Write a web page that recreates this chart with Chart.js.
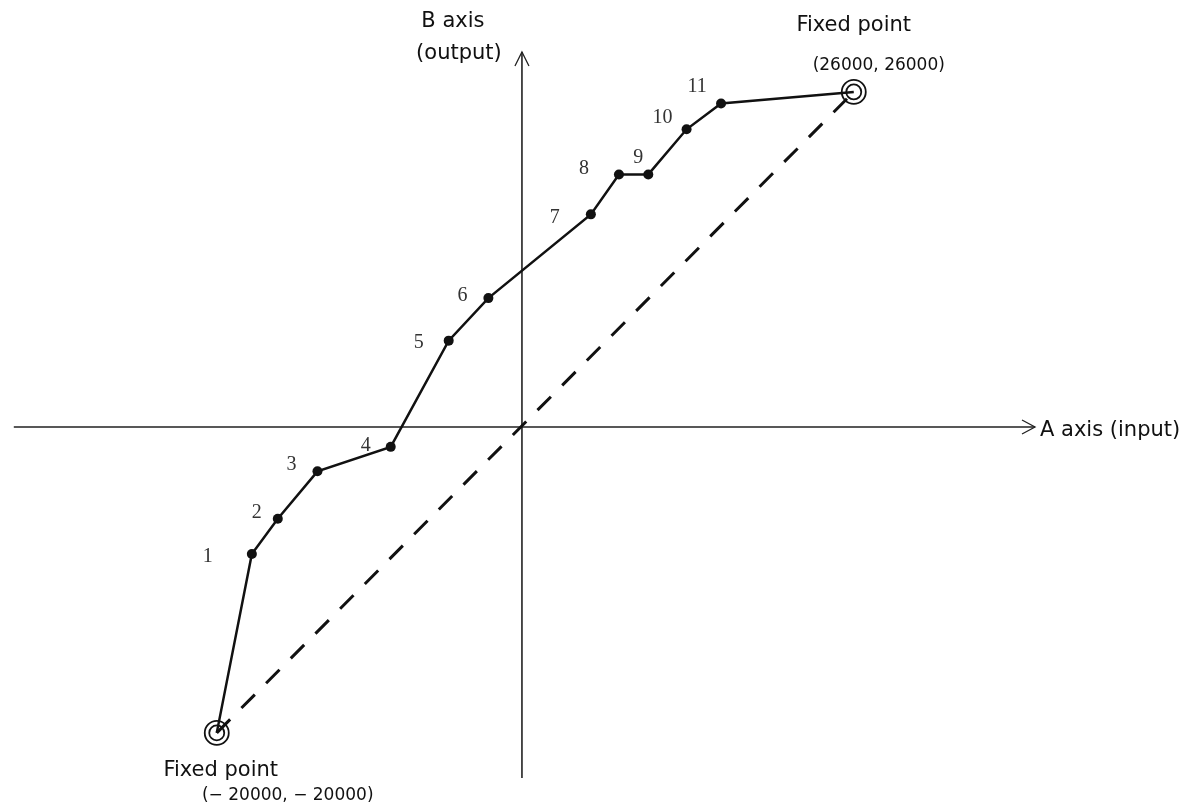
<!DOCTYPE html>
<html>
<head>
<meta charset="utf-8">
<script src="https://cdn.jsdelivr.net/npm/chart.js@4.4.1/dist/chart.umd.min.js"></script>
<style>
  html, body { margin: 0; background: #fff; }
  #wrap { width: 1192px; height: 811px; }
</style>
</head>
<body>
<div id="wrap"><canvas id="chart"></canvas></div>
<script>
// values in A / B units
const fixedA = [-20000, 26000];
const fixedB = [-20000, 26000];
const fixedText = ["(\u2212 20000, \u2212 20000)", "(26000, 26000)"];

const pointNames = ["1", "2", "3", "4", "5", "6", "7", "8", "9", "10", "11"];
const pointA = [-17700, -16000, -13400, -8600, -4800, -2200, 5400, 7600, 9900, 12900, 15600];
const pointB = [-8300, -6000, -2900, -1300, 6700, 10000, 16500, 19600, 19600, 23100, 25100];

// where each number is written, relative to its point (px)
const nameOffsets = [[-44, 3], [-21, -6], [-26, -7], [-25, -1], [-30, 2], [-26, -2],
                     [-36, 3], [-35, -6], [-10, -17], [-24, -12], [-24, -17]];

// the drawing is not to scale: negative and positive halves use different units per pixel
class SplitScale extends Chart.LinearScale {
  static id = "split";
  static defaults = {};
  getPixelForValue(value) {
    const z = this.options.zero;
    const d = value < 0 ? z * (1 - value / this.min) : z + (1 - z) * value / this.max;
    return this.getPixelForDecimal(d);
  }
  getValueForPixel(pixel) {
    const z = this.options.zero;
    const d = this.getDecimalForPixel(pixel);
    return d < z ? this.min * (1 - d / z) : this.max * (d - z) / (1 - z);
  }
}
Chart.register(SplitScale);

const path = [{ x: fixedA[0], y: fixedB[0] }]
  .concat(pointA.map((a, i) => ({ x: a, y: pointB[i] })))
  .concat([{ x: fixedA[1], y: fixedB[1] }]);
const fixedPts = fixedA.map((a, i) => ({ x: a, y: fixedB[i] }));

const ink = "#111";

const drawing = {
  id: "drawing",
  beforeDatasetsDraw(chart) {
    const { ctx, chartArea: ca, scales: { x, y } } = chart;
    const x0 = x.getPixelForValue(0), y0 = y.getPixelForValue(0);
    ctx.save();
    ctx.strokeStyle = "#222";
    ctx.lineWidth = 1.6;
    ctx.beginPath();
    ctx.moveTo(ca.left, y0); ctx.lineTo(ca.right, y0);
    ctx.moveTo(x0, ca.bottom); ctx.lineTo(x0, ca.top);
    ctx.stroke();
    ctx.lineWidth = 1.3;
    ctx.beginPath();
    ctx.moveTo(ca.right - 13, y0 - 7); ctx.lineTo(ca.right, y0); ctx.lineTo(ca.right - 13, y0 + 7);
    ctx.moveTo(x0 - 7, ca.top + 14); ctx.lineTo(x0, ca.top); ctx.lineTo(x0 + 7, ca.top + 14);
    ctx.stroke();
    ctx.restore();
  },
  afterDatasetsDraw(chart) {
    const { ctx, chartArea: ca, scales: { x, y } } = chart;
    const x0 = x.getPixelForValue(0), y0 = y.getPixelForValue(0);
    ctx.save();
    ctx.textBaseline = "middle";

    // point numbers
    ctx.font = "20px 'Liberation Serif'";
    ctx.fillStyle = "#333";
    ctx.textAlign = "center";
    pointNames.forEach((n, i) => {
      const px = x.getPixelForValue(pointA[i]), py = y.getPixelForValue(pointB[i]);
      ctx.fillText(n, px + nameOffsets[i][0], py + nameOffsets[i][1]);
    });

    ctx.fillStyle = ink;
    ctx.font = "21px 'DejaVu Sans'";
    ctx.textAlign = "center";
    ctx.fillText("B axis", x0 - 69, ca.top - 30);
    ctx.fillText("(output)", x0 - 63, ca.top + 2);
    ctx.textAlign = "left";
    ctx.fillText("A axis (input)", ca.right + 5, y0 + 4);

    // fixed point captions
    const lo = { x: x.getPixelForValue(fixedA[0]), y: y.getPixelForValue(fixedB[0]) };
    const hi = { x: x.getPixelForValue(fixedA[1]), y: y.getPixelForValue(fixedB[1]) };
    ctx.textAlign = "center";
    ctx.fillText("Fixed point", hi.x, hi.y - 66);
    ctx.fillText("Fixed point", lo.x + 4, lo.y + 38);
    ctx.font = "17px 'DejaVu Sans'";
    ctx.fillText(fixedText[1], hi.x + 25, hi.y - 26);
    ctx.fillText(fixedText[0], lo.x + 71, lo.y + 63);
    ctx.restore();
  }
};

new Chart(document.getElementById("chart"), {
  type: "scatter",
  data: {
    datasets: [
      {
        data: fixedPts,
        showLine: true,
        borderColor: ink,
        borderWidth: 3,
        borderDash: [19, 16],
        pointRadius: 0
      },
      {
        data: path,
        showLine: true,
        borderColor: ink,
        borderWidth: 2.5,
        pointRadius: c => (c.dataIndex === 0 || c.dataIndex === path.length - 1) ? 0 : 5,
        pointBackgroundColor: ink,
        pointBorderWidth: 0
      },
      {
        data: fixedPts,
        pointRadius: 12,
        pointBorderWidth: 1.8,
        pointBorderColor: ink,
        pointBackgroundColor: "rgba(0,0,0,0)"
      },
      {
        data: fixedPts,
        pointRadius: 7.5,
        pointBorderWidth: 1.8,
        pointBorderColor: ink,
        pointBackgroundColor: "rgba(0,0,0,0)"
      }
    ]
  },
  options: {
    responsive: true,
    maintainAspectRatio: false,
    animation: false,
    clip: false,
    layout: { padding: { left: 8, right: 157, top: 52, bottom: 33 } },
    plugins: { legend: { display: false }, tooltip: { enabled: false } },
    scales: {
      x: { type: "split", display: false, bounds: "data", min: -33300, max: 40200, zero: 0.4976 },
      y: { type: "split", display: false, bounds: "data", min: -22950, max: 29100, zero: 0.4835 }
    }
  },
  plugins: [drawing]
});
</script>
</body>
</html>
